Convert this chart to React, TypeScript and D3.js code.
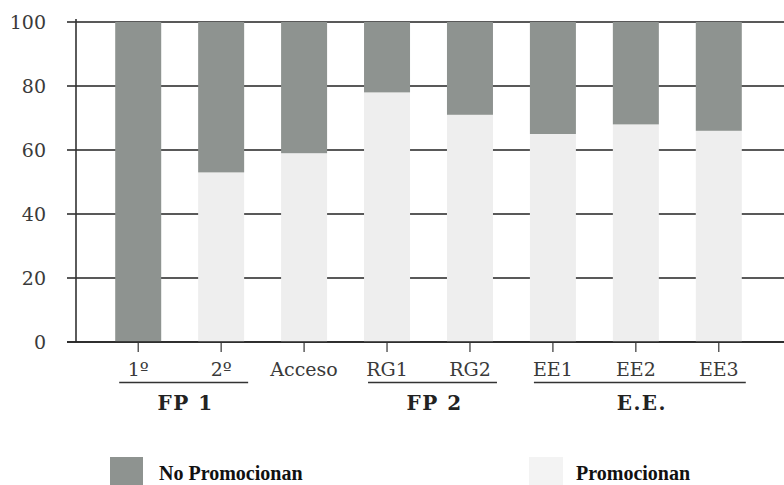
import React from "react";
import * as d3 from "d3";

const categories = ["1º", "2º", "Acceso", "RG1", "RG2", "EE1", "EE2", "EE3"];
const promocionan = [0, 53, 59, 78, 71, 65, 68, 66];
const noPromocionan = [100, 47, 41, 22, 29, 35, 32, 34];
const yTicks = [0, 20, 40, 60, 80, 100];
const groupNames = ["FP 1", "FP 2", "E.E."];
const groupFirst = ["1º", "RG1", "EE1"];
const groupLast = ["2º", "RG2", "EE3"];
const seriesNames = ["No Promocionan", "Promocionan"];

const W = 784;
const H = 485;
const DARK = "#8e9390";
const LIGHT = "#eeeeee";
const TICK_FONT = "'DejaVu Serif', serif";
const LEG_FONT = "'Liberation Serif', serif";

export default function App() {
  const x = d3.scalePoint<string>().domain(categories).range([76, 781]).padding(0.75);
  const y = d3.scaleLinear().domain([0, 100]).range([342, 22]);
  const bw = 46;
  const axisX = 76;
  const gridStart = 67;

  return (
    <svg width={W} height={H} style={{ position: "absolute", left: 0, top: 0, background: "#fff" }}>
      {/* gridlines */}
      {yTicks.map((t) => (
        <line key={"g" + t} x1={gridStart} x2={W} y1={y(t)} y2={y(t)} stroke="#222" strokeWidth={1.6} />
      ))}
      {/* y labels */}
      {yTicks.map((t) => (
        <text key={"yl" + t} x={46} y={y(t)} textAnchor="end" dominantBaseline="central"
          fontFamily={TICK_FONT} fontSize={19} fill="#3a3a3a">{t}</text>
      ))}
      {/* y axis */}
      <line x1={axisX} x2={axisX} y1={19} y2={y(0)} stroke="#333" strokeWidth={1.6} />
      {/* bars */}
      {categories.map((c, i) => {
        const cx = x(c) as number;
        return (
          <g key={"b" + c}>
            {promocionan[i] > 0 && (
              <rect x={cx - bw / 2} y={y(promocionan[i])} width={bw} height={y(0) - y(promocionan[i])} fill={LIGHT} />
            )}
            <rect x={cx - bw / 2} y={y(promocionan[i] + noPromocionan[i])} width={bw}
              height={y(promocionan[i]) - y(promocionan[i] + noPromocionan[i])} fill={DARK} />
          </g>
        );
      })}
      {/* x axis baseline */}
      <line x1={gridStart} x2={W} y1={y(0)} y2={y(0)} stroke="#222" strokeWidth={1.6} />
      {/* x ticks and labels */}
      {categories.map((c) => {
        const cx = x(c) as number;
        return (
          <g key={"t" + c}>
            <line x1={cx} x2={cx} y1={y(0)} y2={y(0) + 10} stroke="#333" strokeWidth={1.2} />
            <text x={cx} y={376} textAnchor="middle" fontFamily={TICK_FONT} fontSize={19} fill="#3a3a3a">{c}</text>
          </g>
        );
      })}
      {/* group labels */}
      {groupNames.map((g, i) => {
        const x1 = (x(groupFirst[i]) as number) - 19;
        const x2 = (x(groupLast[i]) as number) + 27;
        return (
          <g key={"grp" + g}>
            <line x1={x1} x2={x2} y1={382.5} y2={382.5} stroke="#333" strokeWidth={1.6} />
            <text x={(x1 + x2) / 2 + 2} y={410} textAnchor="middle" fontFamily={TICK_FONT} fontWeight="bold"
              fontSize={20} letterSpacing={1.5} fill="#222">{g}</text>
          </g>
        );
      })}
      {/* legend */}
      <rect x={110} y={457} width={33} height={33} fill={DARK} />
      <text x={159} y={480} fontFamily={LEG_FONT} fontWeight="bold" fontSize={20} fill="#111">{seriesNames[0]}</text>
      <rect x={529} y={457} width={34} height={33} fill="#f3f3f3" />
      <text x={576} y={480} fontFamily={LEG_FONT} fontWeight="bold" fontSize={20} fill="#111">{seriesNames[1]}</text>
    </svg>
  );
}
